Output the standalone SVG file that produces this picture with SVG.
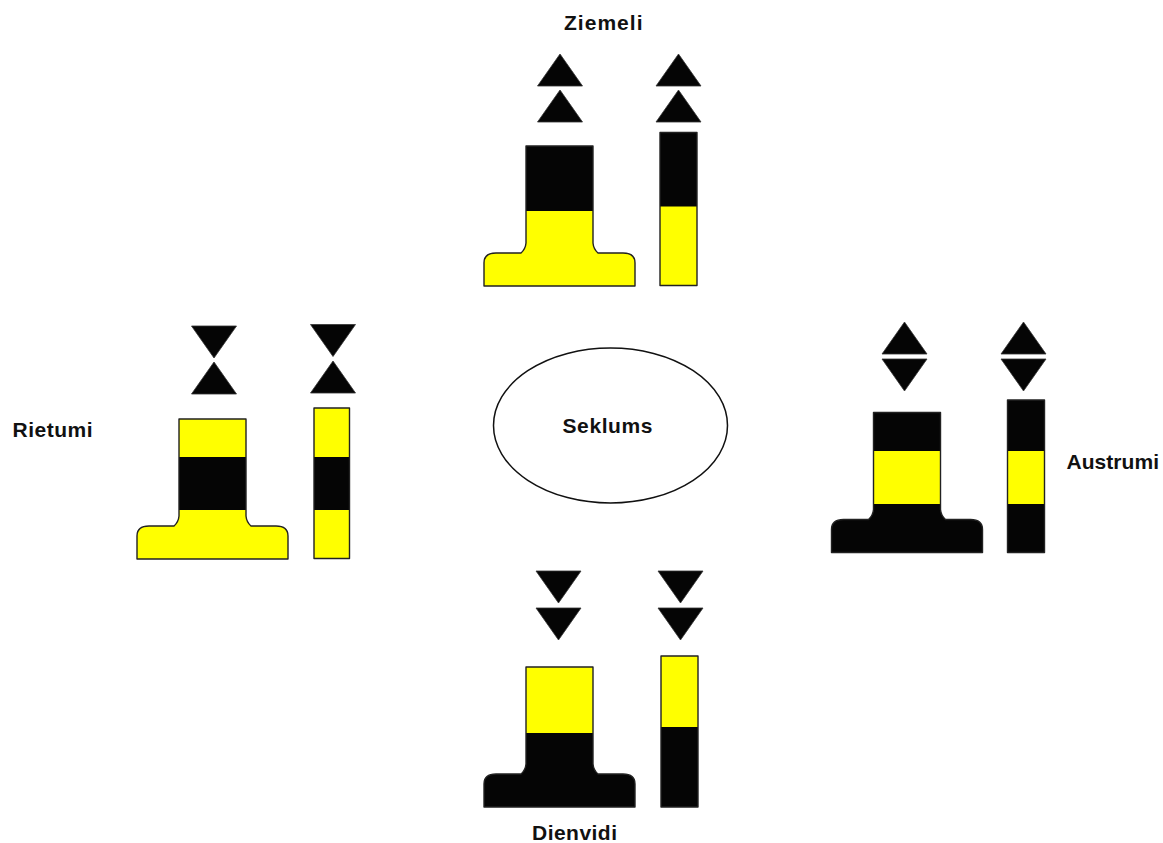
<svg xmlns="http://www.w3.org/2000/svg" xmlns:xlink="http://www.w3.org/1999/xlink" width="1163" height="843" viewBox="0 0 1163 843">
  <style>
    .yel { fill: #ffff00; }
    .blk { fill: #050505; }
    .edge { fill: none; stroke: #222; stroke-width: 1.4; stroke-linejoin: round; }
    .tri { fill: #050505; stroke: #333; stroke-width: 0.8; stroke-linejoin: round; }
    .lbl { font-family: "Liberation Sans", Arial, sans-serif; font-weight: bold; font-size: 21px; fill: #111; }
    .shoal { fill: none; stroke: #111; stroke-width: 1.5; }
  </style>
  <defs>
    <!-- pillar-type hull with flared base; body 67 wide, origin at body top-left -->
    <path id="hull" d="M0,0 H67 V97 Q67.5,103 72,107 H97 Q109,107 109,117 V140 H-42 V117 Q-42,107 -30,107 H-5 Q-0.5,103 0,97 Z"/>
    <!-- topmark cones, apex/base relative to origin -->
    <path id="up" d="M0,0 L22.5,32 H-22.5 Z"/>
    <path id="down" d="M-22.5,0 H22.5 L0,32 Z"/>
  </defs>

  <!-- Shoal in the centre -->
  <g id="shoal">
    <ellipse class="shoal" cx="610.5" cy="425.5" rx="117" ry="77.5"/>
    <text class="lbl" x="562.5" y="432.5" textLength="90" lengthAdjust="spacing">Seklums</text>
  </g>

  <!-- North cardinal: black over yellow, cones up -->
  <g id="north">
    <text class="lbl" x="564" y="30" textLength="78.5" lengthAdjust="spacing">Ziemeli</text>
    <use xlink:href="#up" class="tri" x="560" y="54"/>
    <use xlink:href="#up" class="tri" x="560" y="90"/>
    <use xlink:href="#up" class="tri" x="678.5" y="54"/>
    <use xlink:href="#up" class="tri" x="678.5" y="90"/>
    <g transform="translate(526,146)">
      <use xlink:href="#hull" class="yel"/>
      <rect class="blk" x="0" y="0" width="67" height="65"/>
      <use xlink:href="#hull" class="edge"/>
    </g>
    <rect class="yel" x="660" y="132.5" width="37" height="153"/>
    <rect class="blk" x="660" y="132.5" width="37" height="74"/>
    <rect class="edge" x="660" y="132.5" width="37" height="153"/>
  </g>

  <!-- West cardinal: yellow-black-yellow, cones point to point -->
  <g id="west">
    <text class="lbl" x="12.5" y="436.5" textLength="80" lengthAdjust="spacing">Rietumi</text>
    <use xlink:href="#down" class="tri" x="214" y="326"/>
    <use xlink:href="#up" class="tri" x="214" y="362"/>
    <use xlink:href="#down" class="tri" x="333" y="324.5"/>
    <use xlink:href="#up" class="tri" x="333" y="361"/>
    <g transform="translate(179,419)">
      <use xlink:href="#hull" class="yel"/>
      <rect class="blk" x="0" y="38" width="67" height="53"/>
      <use xlink:href="#hull" class="edge"/>
    </g>
    <rect class="yel" x="314" y="408" width="35.5" height="150.5"/>
    <rect class="blk" x="314" y="457" width="35.5" height="53"/>
    <rect class="edge" x="314" y="408" width="35.5" height="150.5"/>
  </g>

  <!-- East cardinal: black-yellow-black, cones base to base -->
  <g id="east">
    <text class="lbl" x="1066.5" y="468.5" textLength="92.5" lengthAdjust="spacing">Austrumi</text>
    <use xlink:href="#up" class="tri" x="904.5" y="322"/>
    <use xlink:href="#down" class="tri" x="904.5" y="359"/>
    <use xlink:href="#up" class="tri" x="1023.5" y="322"/>
    <use xlink:href="#down" class="tri" x="1023.5" y="359"/>
    <g transform="translate(873.5,412.5)">
      <use xlink:href="#hull" class="blk"/>
      <rect class="yel" x="0" y="38.5" width="67" height="53"/>
      <use xlink:href="#hull" class="edge"/>
    </g>
    <rect class="blk" x="1007.5" y="400" width="37" height="152.5"/>
    <rect class="yel" x="1007.5" y="451" width="37" height="53"/>
    <rect class="edge" x="1007.5" y="400" width="37" height="152.5"/>
  </g>

  <!-- South cardinal: yellow over black, cones down -->
  <g id="south">
    <use xlink:href="#down" class="tri" x="558.5" y="571"/>
    <use xlink:href="#down" class="tri" x="558.5" y="608"/>
    <use xlink:href="#down" class="tri" x="680.5" y="571"/>
    <use xlink:href="#down" class="tri" x="680.5" y="608"/>
    <g transform="translate(526,667)">
      <use xlink:href="#hull" class="blk"/>
      <rect class="yel" x="0" y="0" width="67" height="66"/>
      <use xlink:href="#hull" class="edge"/>
    </g>
    <rect class="blk" x="661" y="656" width="37" height="151"/>
    <rect class="yel" x="661" y="656" width="37" height="71"/>
    <rect class="edge" x="661" y="656" width="37" height="151"/>
    <text class="lbl" x="532" y="840" textLength="85" lengthAdjust="spacing">Dienvidi</text>
  </g>
</svg>
